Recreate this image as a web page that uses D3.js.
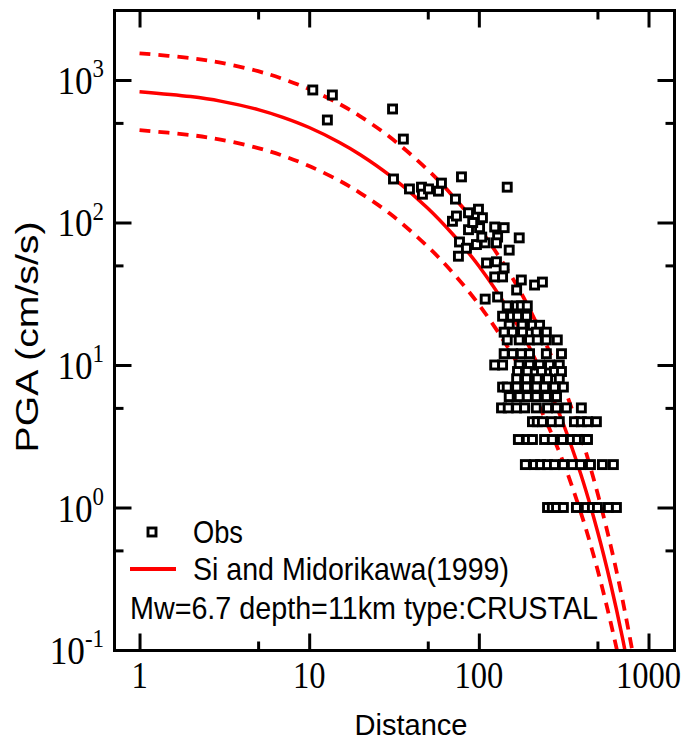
<!DOCTYPE html>
<html>
<head>
<meta charset="utf-8">
<script src="https://cdn.jsdelivr.net/npm/d3@7"></script>
<style>
  body { margin: 0; background: #fff; }
</style>
</head>
<body>
<div id="chart-area"></div>
<script>
// Tick values
let xTicks = [1, 10, 100, 1000];
let xMinor = [5, 50, 500];
let xLabels = ['1', '10', '100', '1000'];
let yTicks = [0.1, 1, 10, 100, 1000];
let yMinor = [0.5, 5, 50, 500];
let yExp = ['-1', '0', '1', '2', '3'];

// Si and Midorikawa (1999) curve
let curveDist = [1, 2, 3, 5, 7, 10, 15, 20, 30, 50, 70, 100, 150, 200, 300, 400, 500, 600, 700, 800, 850];
let curveMean = [828, 765, 711, 620, 547, 464, 366, 299, 213, 126, 83, 49.5, 24.2, 13.1, 4.47, 1.70, 0.684, 0.287, 0.124, 0.054, 0.036];
let curveUpper = [1540, 1423, 1322, 1153, 1017, 863, 681, 556, 396, 234, 154, 92, 45, 24.4, 8.3, 3.16, 1.27, 0.534, 0.231, 0.101, 0.068];
let curveLower = [445, 411, 382, 333, 294, 249, 197, 161, 115, 67.7, 44.6, 26.6, 13.0, 7.04, 2.40, 0.914, 0.368, 0.154, 0.0667, 0.0285, 0.0195];

// Observations (distance, PGA)
let obsDist = [
  10.5, 13.7, 12.8, 31.0, 35.9, 31.4, 39.0, 45.9, 46.5, 50.5, 57.8, 60.2, 79, 72.8, 147,
  69.9, 73.8, 86.9, 99.5, 105, 86.9, 101, 124, 76.9, 84.5, 96.8, 109, 75.8, 111, 124, 129, 109,
  104, 129, 127, 141, 127, 141, 138, 151, 173, 92, 167, 213, 237, 178,
  147, 167, 178, 193,
  138, 156, 169, 191,
  151, 180, 207, 228,
  141, 158, 181, 218, 250,
  147, 173, 199, 221, 250, 290,
  141, 158, 178, 199, 250, 307,
  124, 138, 173, 199, 228, 261, 298,
  169, 193, 234, 279, 307,
  167, 191, 221, 254, 298,
  138, 147, 167, 191, 218, 244, 279, 315,
  151, 173, 193, 218, 250, 287,
  136, 149, 167, 186, 218, 254, 287, 328, 402,
  207, 221, 237, 268, 298, 366, 402, 437, 493,
  171, 193, 207, 244, 271, 311, 351, 381, 419, 437,
  188, 213, 231, 254, 279, 315, 356, 397, 455, 535, 621,
  254, 271, 287, 315, 376, 430, 467, 500, 580, 647
];
let obsPga = [
  851, 785, 524, 626, 385, 202, 172, 177, 158, 172, 166, 189, 209, 146, 177,
  102, 111, 117, 124, 108, 89, 92, 93, 73, 66, 70, 72, 58, 52, 41.5, 30, 29,
  79, 79, 72, 92, 53, 48, 41.5, 64, 78, 100, 33.6, 36.4, 38.2, 39.5,
  26, 26, 26, 26,
  22, 22, 22, 22,
  19, 19, 19, 19,
  17, 17, 17, 17, 17,
  15, 15, 15, 15, 15, 15,
  12, 12, 12, 12, 12, 12,
  10, 10, 10, 10, 10, 10, 10,
  9, 9, 9, 9, 9,
  8, 8, 8, 8, 8,
  7, 7, 7, 7, 7, 7, 7, 7,
  6, 6, 6, 6, 6, 6,
  5, 5, 5, 5, 5, 5, 5, 5, 5,
  4, 4, 4, 4, 4, 4, 4, 4, 4,
  3, 3, 3, 3, 3, 3, 3, 3, 3, 3,
  2, 2, 2, 2, 2, 2, 2, 2, 2, 2, 2,
  1, 1, 1, 1, 1, 1, 1, 1, 1, 1
];

// SVG drawing area
let margin = { top: 10.5, right: 13.5, bottom: 93.5, left: 114.5 };
let width = 688 - margin.left - margin.right,
  height = 744 - margin.top - margin.bottom;

let root = d3.select('#chart-area')
  .append('svg')
  .attr('width', 688)
  .attr('height', 744);

let svg = root.append('g')
  .attr('transform', 'translate(' + margin.left + ',' + margin.top + ')');

// Scales
let x = d3.scaleLog().domain([0.712, 1423]).range([0, width]);
let y = d3.scaleLog().domain([0.0992, 3074]).range([height, 0]);

// Ticks (inward on all four sides)
function ticks(axis, values, size, tr) {
  let g = svg.append('g')
    .attr('transform', tr)
    .call(axis.tickValues(values).tickSize(-size).tickFormat(''));
  g.select('.domain').remove();
  g.selectAll('.tick line').attr('stroke', '#000').attr('stroke-width', 3);
}
ticks(d3.axisBottom(x), xTicks, 17, 'translate(0,' + height + ')');
ticks(d3.axisBottom(x), xMinor, 9, 'translate(0,' + height + ')');
ticks(d3.axisTop(x), xTicks, 17, 'translate(0,0)');
ticks(d3.axisTop(x), xMinor, 9, 'translate(0,0)');
ticks(d3.axisLeft(y), yTicks, 17, 'translate(0,0)');
ticks(d3.axisLeft(y), yMinor, 9, 'translate(0,0)');
ticks(d3.axisRight(y), yTicks, 17, 'translate(' + width + ',0)');
ticks(d3.axisRight(y), yMinor, 9, 'translate(' + width + ',0)');

// Clip for the curves
svg.append('clipPath').attr('id', 'plot-clip')
  .append('rect').attr('width', width).attr('height', height);

let line = d3.line()
  .x(d => x(d[0]))
  .y(d => y(d[1]))
  .curve(d3.curveCatmullRom);

let curves = svg.append('g').attr('clip-path', 'url(#plot-clip)');
curves.append('path')
  .datum(d3.zip(curveDist, curveUpper))
  .attr('d', line).attr('fill', 'none').attr('stroke', '#ff0000')
  .attr('stroke-width', 3.8).attr('stroke-dasharray', '11,8');
curves.append('path')
  .datum(d3.zip(curveDist, curveLower))
  .attr('d', line).attr('fill', 'none').attr('stroke', '#ff0000')
  .attr('stroke-width', 3.8).attr('stroke-dasharray', '11,8');
curves.append('path')
  .datum(d3.zip(curveDist, curveMean))
  .attr('d', line).attr('fill', 'none').attr('stroke', '#ff0000')
  .attr('stroke-width', 3.5);

// Observations
svg.append('g')
  .selectAll('rect')
  .data(d3.zip(obsDist, obsPga))
  .enter()
  .append('rect')
  .attr('x', d => x(d[0]) - 4)
  .attr('y', d => y(d[1]) - 4)
  .attr('width', 8)
  .attr('height', 8)
  .attr('fill', '#fff')
  .attr('stroke', '#000')
  .attr('stroke-width', 2.9);

// Frame
svg.append('rect')
  .attr('width', width).attr('height', height)
  .attr('fill', 'none').attr('stroke', '#000').attr('stroke-width', 3);

// Tick labels
let serif = '"Liberation Serif", "Times New Roman", serif';
xTicks.forEach((v, i) => {
  root.append('text')
    .attr('transform', 'translate(' + (margin.left + x(v)) + ',688) scale(0.88,1)')
    .attr('text-anchor', 'middle')
    .attr('font-family', serif)
    .attr('font-size', 37)
    .text(xLabels[i]);
});
yTicks.forEach((v, i) => {
  let t = root.append('text')
    .attr('transform', 'translate(104,' + (margin.top + y(v) + 14) + ') scale(0.88,1)')
    .attr('text-anchor', 'end')
    .attr('font-family', serif)
    .attr('font-size', 40);
  t.append('tspan').text('10');
  t.append('tspan').attr('font-size', 26).attr('dy', -17).text(yExp[i]);
});

// Axis titles
let sans = '"Liberation Sans", Arial, sans-serif';
root.append('text')
  .attr('x', 411).attr('y', 735)
  .attr('text-anchor', 'middle')
  .attr('font-family', sans).attr('font-size', 29)
  .attr('textLength', 113).attr('lengthAdjust', 'spacingAndGlyphs')
  .text('Distance');
root.append('text')
  .attr('transform', 'translate(38,337) rotate(-90)')
  .attr('text-anchor', 'middle')
  .attr('font-family', sans).attr('font-size', 32)
  .attr('textLength', 231).attr('lengthAdjust', 'spacingAndGlyphs')
  .text('PGA (cm/s/s)');

// Legend
root.append('rect')
  .attr('x', 148).attr('y', 528).attr('width', 8).attr('height', 8)
  .attr('fill', '#fff').attr('stroke', '#000').attr('stroke-width', 2.9);
root.append('text')
  .attr('x', 193).attr('y', 543)
  .attr('font-family', sans).attr('font-size', 32)
  .attr('textLength', 50).attr('lengthAdjust', 'spacingAndGlyphs')
  .text('Obs');
root.append('line')
  .attr('x1', 130).attr('x2', 176).attr('y1', 569).attr('y2', 569)
  .attr('stroke', '#ff0000').attr('stroke-width', 4);
root.append('text')
  .attr('x', 193).attr('y', 580)
  .attr('font-family', sans).attr('font-size', 32)
  .attr('textLength', 316).attr('lengthAdjust', 'spacingAndGlyphs')
  .text('Si and Midorikawa(1999)');
root.append('text')
  .attr('x', 130).attr('y', 619)
  .attr('font-family', sans).attr('font-size', 32)
  .attr('textLength', 468).attr('lengthAdjust', 'spacingAndGlyphs')
  .text('Mw=6.7 depth=11km type:CRUSTAL');
</script>
</body>
</html>
